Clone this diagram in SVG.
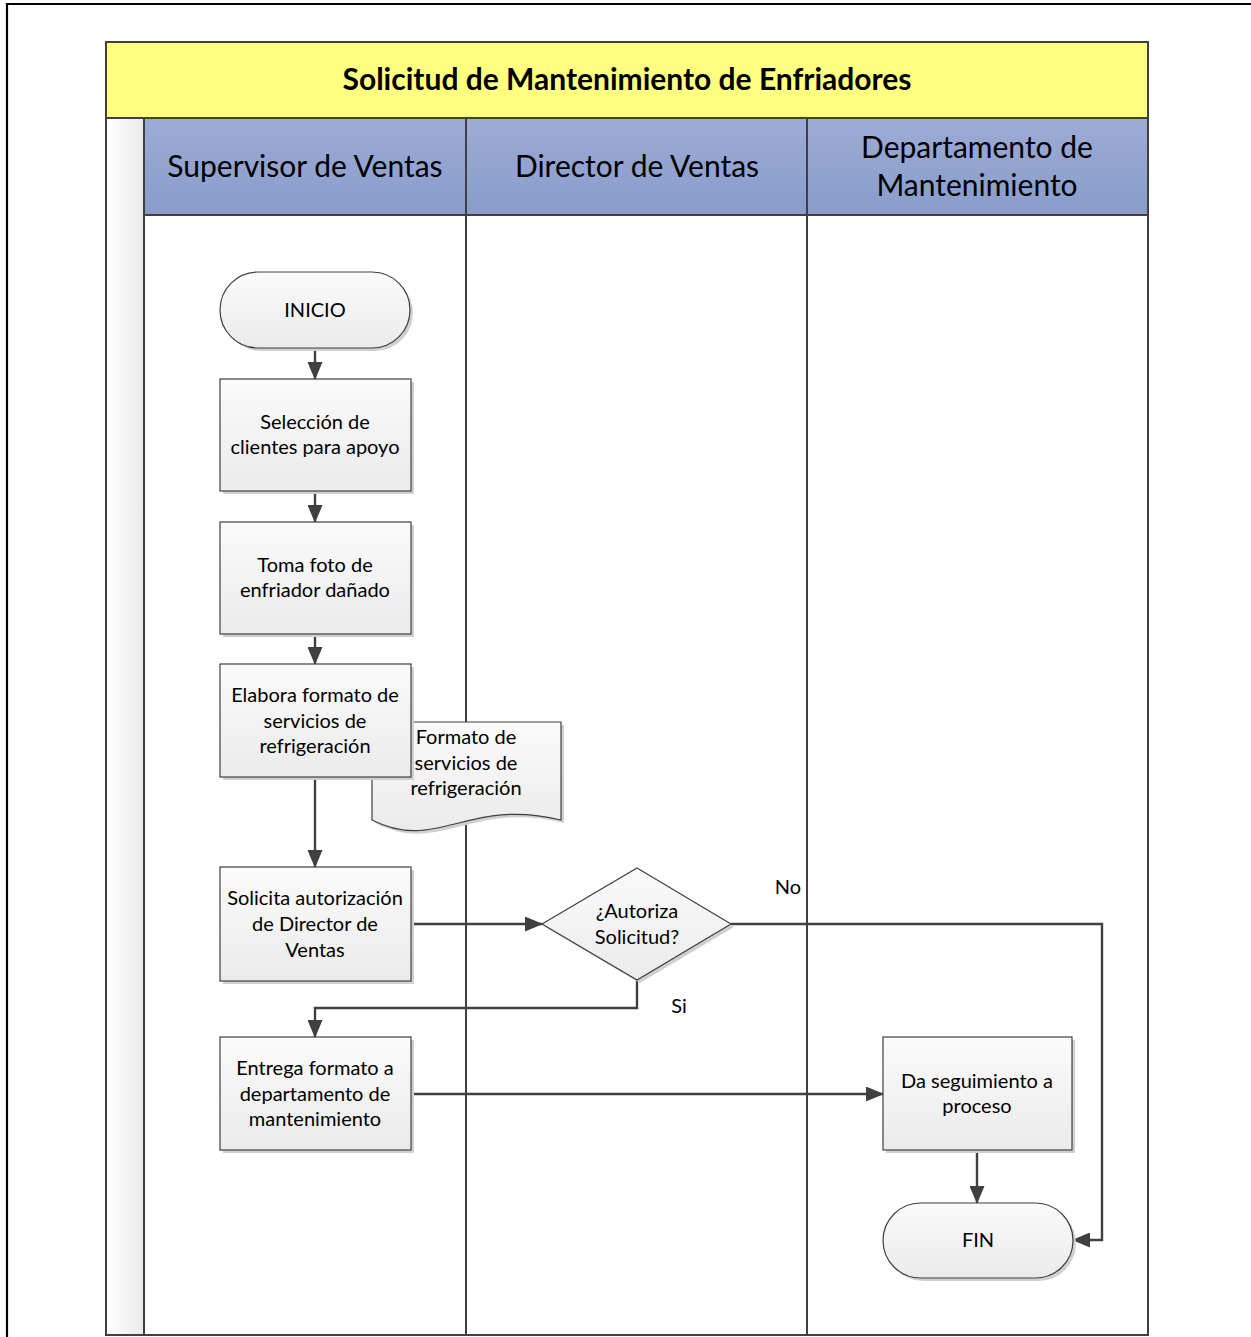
<svg xmlns="http://www.w3.org/2000/svg" width="1251" height="1337" viewBox="0 0 1251 1337">
  <defs>
    <linearGradient id="hdr" x1="0" y1="0" x2="0" y2="1">
      <stop offset="0" stop-color="#9dabd6"/>
      <stop offset="1" stop-color="#889cca"/>
    </linearGradient>
    <linearGradient id="strip" x1="0" y1="0" x2="1" y2="0">
      <stop offset="0" stop-color="#ffffff"/>
      <stop offset="1" stop-color="#ebebeb"/>
    </linearGradient>
    <linearGradient id="node" x1="0" y1="0" x2="0" y2="1">
      <stop offset="0" stop-color="#fbfbfb"/>
      <stop offset="1" stop-color="#ebebeb"/>
    </linearGradient>
    <marker id="arr" viewBox="0 0 18 15" refX="17" refY="7.5" markerWidth="18" markerHeight="15" markerUnits="userSpaceOnUse" orient="auto">
      <path d="M0,0 L18,7.5 L0,15 Z" fill="#404040"/>
    </marker>
    <style>
      .t { font-family: Lato, "Liberation Sans", sans-serif; fill: #000; text-anchor: middle; }
      .n { font-size: 20px; }
      .h { font-size: 30px; }
      .shape { fill: url(#node); stroke: #404040; stroke-width: 1.2; }
      .shadow { fill: #d0d0d0; }
      .lane { fill: none; stroke: #404040; stroke-width: 2; }
      .conn { fill: none; stroke: #404040; stroke-width: 2.4; }
    </style>
  </defs>

  <rect width="1251" height="1337" fill="#ffffff"/>

  <!-- outer frame -->
  <path d="M7,1337 L7,4 L1251,4" fill="none" stroke="#000" stroke-width="2.2"/>

  <!-- pool -->
  <g id="pool">
    <rect x="106" y="42" width="1042" height="76" fill="#ffff80"/>
    <rect x="106" y="118" width="38" height="1217" fill="url(#strip)"/>
    <rect x="144" y="118" width="1004" height="97" fill="url(#hdr)"/>
    <rect x="144" y="215" width="1004" height="1120" fill="#ffffff"/>
    <rect x="106" y="42" width="1042" height="1293" class="lane"/>
    <line x1="106" y1="118" x2="1148" y2="118" class="lane"/>
    <line x1="144" y1="215" x2="1148" y2="215" class="lane"/>
    <line x1="144" y1="118" x2="144" y2="1335" class="lane"/>
    <line x1="466" y1="118" x2="466" y2="1335" class="lane"/>
    <line x1="807" y1="118" x2="807" y2="1335" class="lane"/>
    <text x="627" y="90" class="t" font-size="30" font-weight="bold">Solicitud de Mantenimiento de Enfriadores</text>
    <text x="305" y="177" class="t h">Supervisor de Ventas</text>
    <text x="637" y="177" class="t h">Director de Ventas</text>
    <text x="977" y="158" class="t h">Departamento de</text>
    <text x="977" y="196" class="t h">Mantenimiento</text>
  </g>

  <!-- connectors -->
  <g id="connectors">
    <line x1="315" y1="348" x2="315" y2="379" class="conn" marker-end="url(#arr)"/>
    <line x1="315" y1="491" x2="315" y2="522" class="conn" marker-end="url(#arr)"/>
    <line x1="315" y1="634" x2="315" y2="664" class="conn" marker-end="url(#arr)"/>
    <line x1="315" y1="777" x2="315" y2="867" class="conn" marker-end="url(#arr)"/>
    <line x1="411" y1="924" x2="542" y2="924" class="conn" marker-end="url(#arr)"/>
    <path d="M731,924 L1102,924 L1102,1240 L1073,1240" class="conn" marker-end="url(#arr)"/>
    <path d="M637,980 L637,1008 L315,1008 L315,1037" class="conn" marker-end="url(#arr)"/>
    <line x1="411" y1="1094" x2="883" y2="1094" class="conn" marker-end="url(#arr)"/>
    <line x1="977" y1="1150" x2="977" y2="1203" class="conn" marker-end="url(#arr)"/>
    <text x="788" y="894" class="t" font-size="20">No</text>
    <text x="679" y="1013" class="t" font-size="20">Si</text>
  </g>

  <!-- nodes -->
  <g id="inicio">
    <rect x="223" y="275" width="190" height="76" rx="38" class="shadow"/>
    <rect x="220" y="272" width="190" height="76" rx="38" class="shape"/>
    <text x="315" y="317" class="t n">INICIO</text>
  </g>

  <g id="seleccion">
    <rect x="223" y="382" width="191" height="112" class="shadow"/>
    <rect x="220" y="379" width="191" height="112" class="shape"/>
    <text x="315" y="429" class="t n">Selección de</text>
    <text x="315" y="454" class="t n">clientes para apoyo</text>
  </g>

  <g id="toma-foto">
    <rect x="223" y="525" width="191" height="112" class="shadow"/>
    <rect x="220" y="522" width="191" height="112" class="shape"/>
    <text x="315" y="572" class="t n">Toma foto de</text>
    <text x="315" y="597" class="t n">enfriador dañado</text>
  </g>

  <g id="formato-doc">
    <path d="M375,725 L564,725 L564,823 C470,800 440,856 375,823 Z" class="shadow"/>
    <path d="M372,722 L561,722 L561,820 C467,797 437,853 372,820 Z" class="shape"/>
    <text x="466" y="744" class="t n">Formato de</text>
    <text x="466" y="770" class="t n">servicios de</text>
    <text x="466" y="795" class="t n">refrigeración</text>
  </g>

  <g id="elabora">
    <rect x="223" y="667" width="191" height="113" class="shadow"/>
    <rect x="220" y="664" width="191" height="113" class="shape"/>
    <text x="315" y="702" class="t n">Elabora formato de</text>
    <text x="315" y="728" class="t n">servicios de</text>
    <text x="315" y="753" class="t n">refrigeración</text>
  </g>

  <g id="solicita">
    <rect x="223" y="870" width="191" height="114" class="shadow"/>
    <rect x="220" y="867" width="191" height="114" class="shape"/>
    <text x="315" y="905" class="t n">Solicita autorización</text>
    <text x="315" y="931" class="t n">de Director de</text>
    <text x="315" y="957" class="t n">Ventas</text>
  </g>

  <g id="autoriza">
    <path d="M640,871 L734,927 L640,983 L545,927 Z" class="shadow"/>
    <path d="M637,868 L731,924 L637,980 L542,924 Z" class="shape"/>
    <text x="637" y="918" class="t n">¿Autoriza</text>
    <text x="637" y="944" class="t n">Solicitud?</text>
  </g>

  <g id="entrega">
    <rect x="223" y="1040" width="191" height="113" class="shadow"/>
    <rect x="220" y="1037" width="191" height="113" class="shape"/>
    <text x="315" y="1075" class="t n">Entrega formato a</text>
    <text x="315" y="1101" class="t n">departamento de</text>
    <text x="315" y="1126" class="t n">mantenimiento</text>
  </g>

  <g id="seguimiento">
    <rect x="886" y="1040" width="189" height="113" class="shadow"/>
    <rect x="883" y="1037" width="189" height="113" class="shape"/>
    <text x="977" y="1088" class="t n">Da seguimiento a</text>
    <text x="977" y="1113" class="t n">proceso</text>
  </g>

  <g id="fin">
    <rect x="886" y="1206" width="190" height="75" rx="37.5" class="shadow"/>
    <rect x="883" y="1203" width="190" height="75" rx="37.5" class="shape"/>
    <text x="978" y="1247" class="t n">FIN</text>
  </g>
</svg>
